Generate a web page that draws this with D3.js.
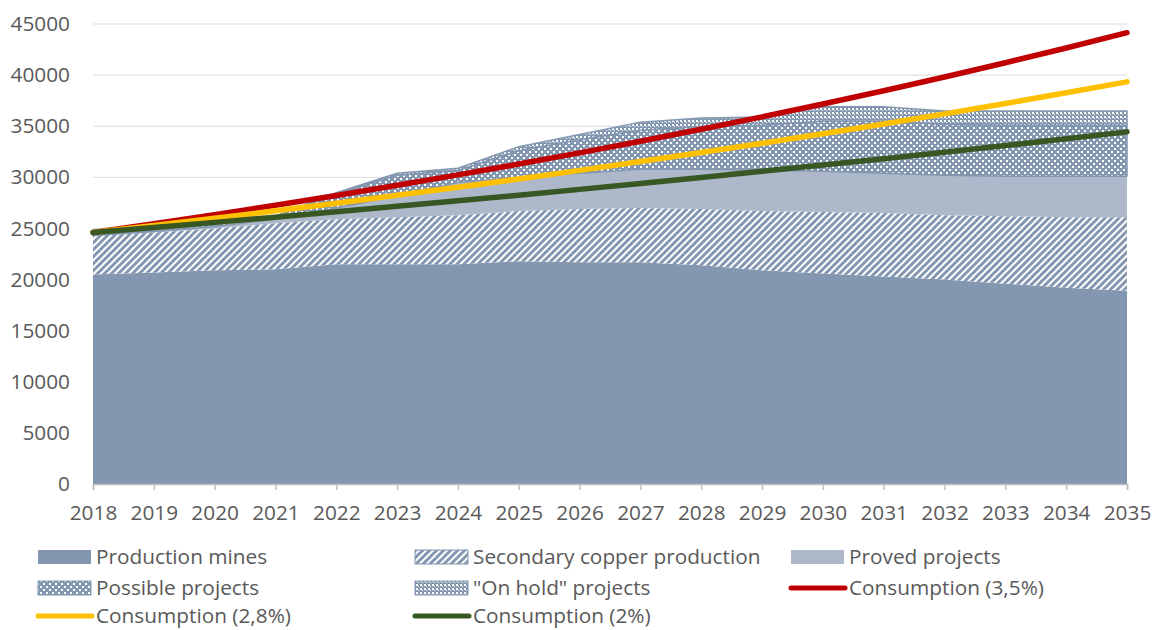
<!DOCTYPE html>
<html><head><meta charset="utf-8">
<script src="https://cdn.jsdelivr.net/npm/d3@7"></script>
<style>
body{margin:0;background:#fff;}
svg text{font-family:"Open Sans","Noto Sans",sans-serif;fill:#595959;}
</style></head>
<body><svg id="c" width="1152" height="630"></svg>
<script>
const years = [2018,2019,2020,2021,2022,2023,2024,2025,2026,2027,2028,2029,2030,2031,2032,2033,2034,2035];
const productionMines = [20500,20700,20900,21000,21500,21500,21500,21800,21700,21700,21400,20900,20600,20300,20000,19600,19200,18900];
const secondaryCopper = [3800,3900,4100,4500,4400,4600,4800,4900,5200,5300,5500,5800,6000,6200,6300,6600,6900,7200];
const provedProjects = [0,100,200,400,1100,2100,3200,3300,3500,3800,3900,4000,4000,3900,3900,3900,4000,4000];
const possibleProjects = [0,100,200,300,1400,2000,1200,2600,3300,3800,4200,4400,4900,5100,5000,5000,5000,5000];
const onHoldProjects = [0,0,0,0,100,200,200,400,500,800,800,800,1400,1400,1300,1400,1400,1400];
const consumption35 = [24600,25461,26352,27274,28229,29217,30240,31298,32393,33527,34701,35915,37172,38473,39820,41214,42656,44149];
const consumption28 = [24600,25289,25997,26725,27473,28242,29033,29846,30682,31541,32424,33332,34265,35225,36211,37225,38267,39339];
const consumption20 = [24600,25092,25594,26106,26628,27160,27704,28258,28823,29399,29987,30587,31199,31823,32459,33108,33771,34446];
const yTicks = [0,5000,10000,15000,20000,25000,30000,35000,40000,45000];

const svg = d3.select("#c");
const X0=93, X1=1127, Y0=484, Y1=24;
const x = d3.scaleLinear().domain([2018,2035]).range([X0,X1]);
const y = d3.scaleLinear().domain([0,45000]).range([Y0,Y1]);
const base="#8497B0";
const FS=20.8;

const defs = svg.append("defs");
const p1 = defs.append("pattern").attr("id","diag").attr("patternUnits","userSpaceOnUse").attr("width",7).attr("height",7);
p1.append("rect").attr("width",7).attr("height",7).attr("fill","#fff");
p1.append("path").attr("d","M-2,9 L9,-2 M-2,2 L2,-2 M5,9 L9,5").attr("stroke",base).attr("stroke-width",3);
const p2 = defs.append("pattern").attr("id","chk").attr("patternUnits","userSpaceOnUse").attr("width",6).attr("height",6);
p2.append("rect").attr("width",6).attr("height",6).attr("fill",base);
p2.append("rect").attr("x",1).attr("y",1).attr("width",2).attr("height",2).attr("fill","#fff");
p2.append("rect").attr("x",4).attr("y",4).attr("width",2).attr("height",2).attr("fill","#fff");
const p3 = defs.append("pattern").attr("id","fine").attr("patternUnits","userSpaceOnUse").attr("width",4).attr("height",4);
p3.append("rect").attr("width",4).attr("height",4).attr("fill",base);
p3.append("rect").attr("x",0).attr("y",0).attr("width",2).attr("height",2).attr("fill","#fff");
p3.append("rect").attr("x",2).attr("y",2).attr("width",1).attr("height",1).attr("fill","#fff");

svg.append("g").selectAll("line").data(yTicks.filter(d=>d>0)).join("line")
  .attr("x1",X0).attr("x2",X1).attr("y1",d=>y(d)).attr("y2",d=>y(d))
  .attr("stroke","#D9D9D9").attr("stroke-width",1);

const rows = years.map((yr,i)=>({year:yr, pm:productionMines[i], sc:secondaryCopper[i], pr:provedProjects[i], po:possibleProjects[i], oh:onHoldProjects[i]}));
const keys=["pm","sc","pr","po","oh"];
const fills={pm:base, sc:"url(#diag)", pr:"#ADB9CA", po:"url(#chk)", oh:"url(#fine)"};
const strokes={pm:"none", sc:"none", pr:"none", po:base, oh:base};
const stack = d3.stack().keys(keys)(rows);
const area = d3.area().x(d=>x(d.data.year)).y0(d=>y(d[0])).y1(d=>y(d[1]));
svg.append("g").selectAll("path").data(stack).join("path")
  .attr("d",area).attr("fill",d=>fills[d.key])
  .attr("stroke",d=>strokes[d.key]).attr("stroke-width",1.5).attr("stroke-linejoin","round");

const xa = svg.append("g").attr("transform",`translate(0,${Y0})`)
  .call(d3.axisBottom(x).tickValues(years).tickFormat(d3.format("d")).tickSize(6).tickPadding(15));
xa.select(".domain").attr("stroke","#BFBFBF").attr("stroke-width",1.5);
xa.selectAll(".tick line").attr("stroke","#BFBFBF").attr("stroke-width",1.5);
xa.selectAll("text").attr("font-size",FS).attr("fill","#595959");

const ya = svg.append("g").attr("transform",`translate(${X0},0)`)
  .call(d3.axisLeft(y).tickValues(yTicks).tickFormat(d3.format("d")).tickSize(0).tickPadding(23));
ya.select(".domain").remove();
ya.selectAll("text").attr("font-size",FS).attr("fill","#595959");

const line = d3.line().x((d,i)=>x(years[i])).y(d=>y(d));
const lines=[{v:consumption35,c:"#C00000"},{v:consumption28,c:"#FFC000"},{v:consumption20,c:"#385723"}];
svg.append("g").selectAll("path").data(lines).join("path")
  .attr("d",d=>line(d.v)).attr("fill","none").attr("stroke",d=>d.c).attr("stroke-width",5.5).attr("stroke-linecap","round");

const legend=[
 {t:"Production mines",type:"rect",f:base,col:0,row:0},
 {t:"Secondary copper production",type:"rect",f:"url(#diag)",col:1,row:0},
 {t:"Proved projects",type:"rect",f:"#ADB9CA",col:2,row:0},
 {t:"Possible projects",type:"rect",f:"url(#chk)",col:0,row:1},
 {t:"\"On hold\" projects",type:"rect",f:"url(#fine)",col:1,row:1},
 {t:"Consumption (3,5%)",type:"line",f:"#C00000",col:2,row:1},
 {t:"Consumption (2,8%)",type:"line",f:"#FFC000",col:0,row:2},
 {t:"Consumption (2%)",type:"line",f:"#385723",col:1,row:2}
];
const colX=[38,415,791], rowY=[557,588,616];
const lg=svg.append("g");
legend.forEach(d=>{
  const gx=colX[d.col], gy=rowY[d.row];
  if(d.type==="rect"){
    lg.append("rect").attr("x",gx).attr("y",gy-7).attr("width",53).attr("height",14).attr("fill",d.f).attr("stroke",d.f.startsWith("url")?base:"none").attr("stroke-width",1);
  } else {
    lg.append("line").attr("x1",gx).attr("x2",gx+54).attr("y1",gy).attr("y2",gy).attr("stroke",d.f).attr("stroke-width",5).attr("stroke-linecap","round");
  }
  lg.append("text").attr("x",gx+58).attr("y",gy).attr("dy","0.33em").attr("font-size",FS).text(d.t);
});
</script></body></html>
